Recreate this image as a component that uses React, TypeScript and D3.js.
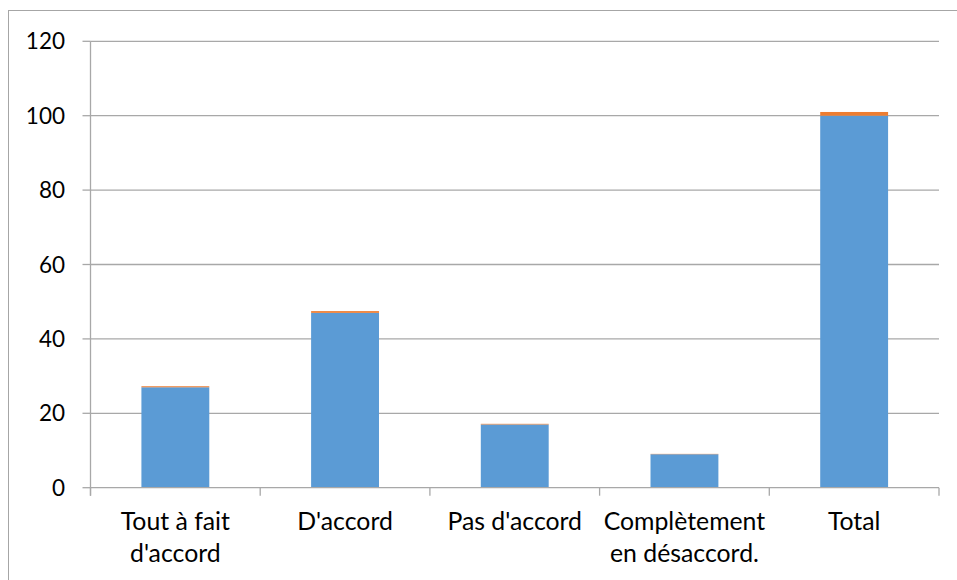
import React from "react";
import * as d3 from "d3";

// Categories and the two stacked series
const categories: string[][] = [
  ["Tout à fait", "d'accord"],
  ["D'accord"],
  ["Pas d'accord"],
  ["Complètement", "en désaccord."],
  ["Total"],
];
const seriesMain: number[] = [27, 47, 17, 9, 100];
const seriesSecond: number[] = [0.27, 0.47, 0.17, 0.09, 1.0];
const yTicks: number[] = [0, 20, 40, 60, 80, 100, 120];

const W = 957;
const H = 580;
const plot = { left: 90.5, right: 939, top: 41.3, bottom: 487.7 };
const FONT = "Lato, 'Open Sans', sans-serif";
const GRID = "#a8a8a8";
const BLUE = "#5B9BD5";
const ORANGE = "#ED7D31";

export default function App() {
  const idx = categories.map((_, i) => String(i));
  const x = d3
    .scaleBand<string>()
    .domain(idx)
    .range([plot.left, plot.right])
    .paddingInner(0.6)
    .paddingOuter(0.3);
  const band = d3.scaleBand<string>().domain(idx).range([plot.left, plot.right]);
  const y = d3.scaleLinear().domain([0, 120]).range([plot.bottom, plot.top]);

  const boundaries = d3.range(categories.length + 1).map(
    (i) => plot.left + i * band.step()
  );

  return (
    <svg
      width={W}
      height={H}
      style={{ position: "absolute", left: 0, top: 0, background: "#fff" }}
    >
      {/* outer chart frame */}
      <rect x={8.5} y={10.5} width={W + 10} height={H + 10} fill="none" stroke="#a6a6a6" strokeWidth={1} />

      {/* horizontal gridlines and y ticks */}
      {yTicks.map((t) => (
        <g key={t}>
          {t !== 0 && (
            <line x1={plot.left} x2={plot.right} y1={y(t)} y2={y(t)} stroke={GRID} strokeWidth={1.3} />
          )}
          <line x1={plot.left - 8} x2={plot.left} y1={y(t)} y2={y(t)} stroke={GRID} strokeWidth={1.3} />
          <text
            x={65}
            y={y(t)}
            dy="0.36em"
            textAnchor="end"
            fontFamily={FONT}
            fontSize={22.5}
            fill="#000"
          >
            {t}
          </text>
        </g>
      ))}

      {/* bars: main series with the second series stacked on top */}
      {seriesMain.map((v, i) => {
        const bx = x(String(i))!;
        const bw = x.bandwidth();
        const s = seriesSecond[i];
        return (
          <g key={i}>
            <rect x={bx} y={y(v)} width={bw} height={y(0) - y(v)} fill={BLUE} />
            <rect x={bx} y={y(v + s)} width={bw} height={y(v) - y(v + s)} fill={ORANGE} />
          </g>
        );
      })}

      {/* axes */}
      <line x1={plot.left} x2={plot.left} y1={plot.top} y2={plot.bottom + 8} stroke={GRID} strokeWidth={1.3} />
      <line x1={plot.left} x2={plot.right} y1={plot.bottom} y2={plot.bottom} stroke={GRID} strokeWidth={1.3} />
      {boundaries.map((bx, i) => (
        <line key={i} x1={bx} x2={bx} y1={plot.bottom} y2={plot.bottom + 8} stroke={GRID} strokeWidth={1.3} />
      ))}

      {/* category labels */}
      {categories.map((lines, i) => (
        <text
          key={i}
          x={band(String(i))! + band.bandwidth() / 2}
          y={530}
          textAnchor="middle"
          fontFamily={FONT}
          fontSize={24.8}
          fill="#000"
        >
          {lines.map((l, j) => (
            <tspan key={j} x={band(String(i))! + band.bandwidth() / 2} dy={j === 0 ? 0 : 31.5}>
              {l}
            </tspan>
          ))}
        </text>
      ))}
    </svg>
  );
}
